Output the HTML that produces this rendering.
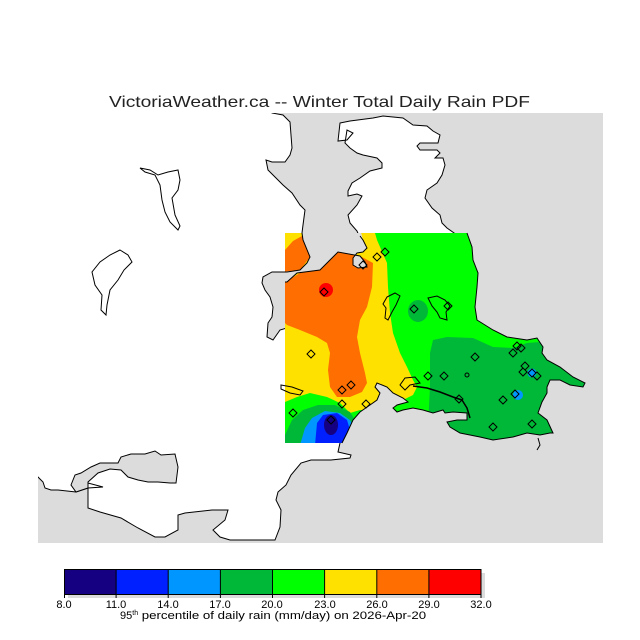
<!DOCTYPE html>
<html><head><meta charset="utf-8"><style>
body{margin:0;background:#fff;width:640px;height:640px;overflow:hidden}
svg{display:block}
text{font-family:"Liberation Sans",sans-serif}
</style></head><body>
<svg width="640" height="640" viewBox="0 0 640 640" xmlns="http://www.w3.org/2000/svg">
<text x="109" y="107" font-size="16" fill="#222" textLength="421" lengthAdjust="spacingAndGlyphs">VictoriaWeather.ca -- Winter Total Daily Rain PDF</text>
<defs>
<clipPath id="m"><rect x="38" y="113" width="565" height="430"/></clipPath>
<clipPath id="d">
<path d="M285,233 L467,233 L472,247 L473,260 L478,273 L477,287 L475,307 L477,320 L493,330 L507,337 L527,340 L537,338 L543,347 L542,353 L547,360 L560,367 L573,377 L585,383 L583,387 L570,385 L560,380 L550,380 L547,387 L547,393 L542,402 L538,413 L547,420 L553,433 L550,433 L540,435 L527,433 L513,437 L493,440 L480,437 L460,433 L450,427 L447,422 L457,420 L467,420 L467,413 L453,412 L445,413 L443,410 L433,413 L423,410 L413,408 L403,410 L397,412 L393,408 L397,405 L408,402 L403,398 L393,393 L387,387 L377,383 L375,387 L380,393 L377,400 L370,405 L360,412 L353,420 L347,433 L342,443 L285,443 Z"/>
</clipPath></defs>
<rect x="38" y="113" width="565" height="430" fill="#dcdcdc"/>
<g clip-path="url(#m)">
<path d="M30,105 L272,105 L272,113 L283,115 L290,122 L291,135 L292,148 L290,155 L285,162 L272,162 L266,160 L268,170 L275,177 L283,185 L292,193 L300,205 L305,210 L303,225 L302,233 L303,240 L310,257 L307,263 L300,270 L287,272 L272,272 L263,277 L262,283 L265,290 L270,297 L273,307 L272,317 L268,323 L267,337 L273,340 L280,330 L290,327 L290,440 L342,440 L340,443 L338,452 L351,455 L350,458 L331,460 L311,460 L301,463 L291,475 L286,485 L278,492 L276,500 L281,510 L280,527 L275,540 L270,540 L255,540 L230,540 L220,537 L213,530 L225,520 L228,510 L212,510 L185,513 L178,515 L178,530 L165,537 L155,537 L138,528 L121,518 L100,512 L88,508 L88,483 L103,487 L88,488 L76,492 L58,490 L51,490 L45,488 L43,482 L38,477 L30,477 Z" fill="#fff" stroke="#000" stroke-width="1"/>
<path d="M71,485 L75,475 L81,473 L91,467 L100,463 L108,463 L118,463 L121,457 L131,454 L145,454 L155,451 L161,455 L175,454 L178,467 L176,483 L170,483 L158,482 L148,482 L138,480 L128,477 L121,470 L110,469 L98,473 L88,482 L88,488 L76,492 Z" fill="#dcdcdc" stroke="#000" stroke-width="1"/>
<path d="M140,168 L150,170 L158,175 L168,172 L178,170 L180,180 L178,190 L172,198 L175,215 L180,226 L178,230 L170,222 L165,212 L162,200 L160,185 L155,175 L145,172 Z" fill="#fff" stroke="#000"/>
<path d="M120,250 L128,255 L132,262 L124,270 L118,280 L110,290 L107,305 L106,315 L101,310 L102,295 L95,285 L92,272 L100,262 L110,255 Z" fill="#fff" stroke="#000"/>
<path d="M340,123 L350,121 L373,118 L383,116 L403,118 L413,125 L427,126 L433,131 L440,135 L438,143 L420,143 L417,146 L420,150 L437,150 L440,153 L435,158 L443,158 L445,165 L442,175 L437,183 L427,190 L425,198 L432,208 L440,215 L442,223 L447,228 L457,235 L467,236 L467,250 L365,250 L360,238 L357,231 L350,223 L348,215 L357,205 L362,196 L357,194 L348,196 L348,191 L352,183 L360,178 L370,171 L382,168 L382,163 L377,158 L363,155 L357,153 L350,148 L345,143 L347,130 L353,133 L347,140 L338,141 Z" fill="#fff" stroke="#000"/>
</g>
<g clip-path="url(#d)">
<rect x="285" y="233" width="310" height="215" fill="#00ff00"/>
<path d="M285,233 L375,233 L377,240 L387,263 L388,287 L390,313 L393,333 L400,353 L407,367 L413,380 L417,387 L413,395 L403,400 L380,410 L360,410 L350,413 L340,403 L327,397 L310,393 L297,397 L285,402 Z" fill="#ffe100"/>
<path d="M338,252 L360,256 L373,263 L372,287 L367,307 L360,320 L357,337 L360,353 L365,373 L367,383 L362,392 L350,397 L337,397 L330,387 L328,370 L330,353 L327,343 L317,337 L300,330 L287,325 L285,323 L285,282 L300,273 L320,270 Z" fill="#ff6e00"/>
<path d="M285,250 L293,241 L302,236 L310,257 L300,270 L285,272 Z" fill="#ff6e00"/>
<circle cx="326" cy="290" r="7" fill="#ff0000"/>
<ellipse cx="418" cy="311" rx="10" ry="11" fill="#00b837"/>
<path d="M427,445 L430,387 L430,353 L433,340 L447,337 L473,338 L493,347 L513,348 L527,343 L540,342 L600,340 L600,445 Z" fill="#00b837"/>
<circle cx="532" cy="373" r="4.5" fill="#0096ff"/>
<circle cx="518" cy="395" r="5" fill="#0096ff"/>
<path d="M285,445 L285,435 L292,420 L303,410 L318,405 L335,405 L350,412 L358,425 L360,445 Z" fill="#00b837"/>
<path d="M300,445 L305,428 L312,418 L325,411 L340,413 L350,420 L355,430 L356,445 Z" fill="#0096ff"/>
<path d="M315,445 L317,423 L323,415 L337,413 L347,420 L350,430 L345,445 Z" fill="#0020ff"/>
<ellipse cx="331" cy="425" rx="7" ry="10" fill="#140080"/>
<path d="M302,228 L360,228 L363,240 L367,248 L363,252 L357,253 L353,258 L353,265 L358,268 L367,267 L365,262 L360,256 L338,252 L320,270 L297,273 L287,282 L280,282 L280,272 L300,270 L307,263 L310,257 L303,240 Z" fill="#dcdcdc"/>
</g>
<polyline points="302,233 303,240 310,257 307,263 300,270 287,272 285,272" fill="none" stroke="#000"/>
<polyline points="360,236 363,240 367,248 363,252 357,253 353,258 353,265 358,268 367,267 365,262 360,256 338,252 320,270 297,273 287,282 285,282" fill="none" stroke="#000"/>
<path d="M467,233 L472,247 L473,260 L478,273 L477,287 L475,307 L477,320 L493,330 L507,337 L527,340 L537,338 L543,347 L542,353 L547,360 L560,367 L573,377 L585,383 L583,387 L570,385 L560,380 L550,380 L547,387 L547,393 L542,402 L538,413 L547,420 L553,433 L550,433 L540,435 L527,433 L513,437 L493,440 L480,437 L460,433 L450,427 L447,422 L457,420 L467,420 L467,413 L453,412 L445,413 L443,410 L433,413 L423,410 L413,408 L403,410 L397,412 L393,408 L397,405 L408,402 L403,398 L393,393 L387,387 L377,383 L375,387 L380,393 L377,400 L370,405 L360,412 L353,420 L347,433 L342,443" fill="none" stroke="#000"/>
<path d="M387,297 L395,293 L400,296 L396,305 L392,312 L388,320 L385,318 L386,308 L383,304 Z" fill="none" stroke="#000"/>
<path d="M428,298 L437,296 L445,300 L450,306 L446,312 L447,320 L440,318 L437,312 L432,306 Z" fill="none" stroke="#000"/>
<path d="M281,385 L292,387 L303,391 L300,395 L290,393 L281,389 Z" fill="none" stroke="#000"/>
<path d="M405,378 L415,377 L420,383 L410,385 L405,390 L400,385 Z" fill="none" stroke="#000"/>
<polyline points="413,386 427,388 440,392 453,397 462,400 467,408 470,418" fill="none" stroke="#000" stroke-width="1.5"/>
<circle cx="467" cy="375" r="2" fill="none" stroke="#000"/>
<path d="M538,438 L540,445 L537,450" fill="none" stroke="#000"/>
<g fill="none" stroke="#000" stroke-width="1">
<path d="M385,248 l4,4 l-4,4 l-4,-4 Z M377,253 l4,4 l-4,4 l-4,-4 Z M363,261 l4,4 l-4,4 l-4,-4 Z M324,288 l4,4 l-4,4 l-4,-4 Z M414,305 l4,4 l-4,4 l-4,-4 Z M448,302 l4,4 l-4,4 l-4,-4 Z M311,350 l4,4 l-4,4 l-4,-4 Z M342,386 l4,4 l-4,4 l-4,-4 Z M351,381 l4,4 l-4,4 l-4,-4 Z M342,400 l4,4 l-4,4 l-4,-4 Z M366,400 l4,4 l-4,4 l-4,-4 Z M293,409 l4,4 l-4,4 l-4,-4 Z M331,416 l4,4 l-4,4 l-4,-4 Z M428,372 l4,4 l-4,4 l-4,-4 Z M444,372 l4,4 l-4,4 l-4,-4 Z M475,353 l4,4 l-4,4 l-4,-4 Z M513,349 l4,4 l-4,4 l-4,-4 Z M517,342 l4,4 l-4,4 l-4,-4 Z M521,344 l4,4 l-4,4 l-4,-4 Z M525,362 l4,4 l-4,4 l-4,-4 Z M523,368 l4,4 l-4,4 l-4,-4 Z M532,369 l4,4 l-4,4 l-4,-4 Z M537,372 l4,4 l-4,4 l-4,-4 Z M515,390 l4,4 l-4,4 l-4,-4 Z M503,396 l4,4 l-4,4 l-4,-4 Z M493,423 l4,4 l-4,4 l-4,-4 Z M532,420 l4,4 l-4,4 l-4,-4 Z M459,395 l4,4 l-4,4 l-4,-4 Z"/>
</g>
<rect x="68" y="573" width="417" height="25" fill="#dcdcdc"/>
<rect x="64" y="569" width="52.1" height="25" fill="#140080"/>
<rect x="116.1" y="569" width="52.1" height="25" fill="#0020ff"/>
<rect x="168.2" y="569" width="52.1" height="25" fill="#0096ff"/>
<rect x="220.4" y="569" width="52.1" height="25" fill="#00b837"/>
<rect x="272.5" y="569" width="52.1" height="25" fill="#00ff00"/>
<rect x="324.6" y="569" width="52.1" height="25" fill="#ffe100"/>
<rect x="376.8" y="569" width="52.1" height="25" fill="#ff6e00"/>
<rect x="428.9" y="569" width="52.1" height="25" fill="#ff0000"/>
<g stroke="#000" stroke-width="1">
<rect x="64.5" y="569.5" width="416.5" height="25" fill="none"/>
<path d="M116.1,569V598M168.2,569V598M220.4,569V598M272.5,569V598M324.6,569V598M376.8,569V598M428.9,569V598M64.5,569V598M481,569V598"/>
</g>
<g font-size="11" text-anchor="middle" fill="#000">
<text x="64" y="608">8.0</text><text x="116" y="608">11.0</text><text x="168" y="608">14.0</text><text x="220" y="608">17.0</text><text x="272" y="608">20.0</text><text x="325" y="608">23.0</text><text x="377" y="608">26.0</text><text x="429" y="608">29.0</text><text x="481" y="608">32.0</text>
</g>
<text x="120" y="619" font-size="11" fill="#000">95<tspan font-size="7" dy="-4">th</tspan><tspan dy="4" textLength="288" lengthAdjust="spacingAndGlyphs"> percentile of daily rain (mm/day) on 2026-Apr-20</tspan></text>
</svg>
</body></html>
